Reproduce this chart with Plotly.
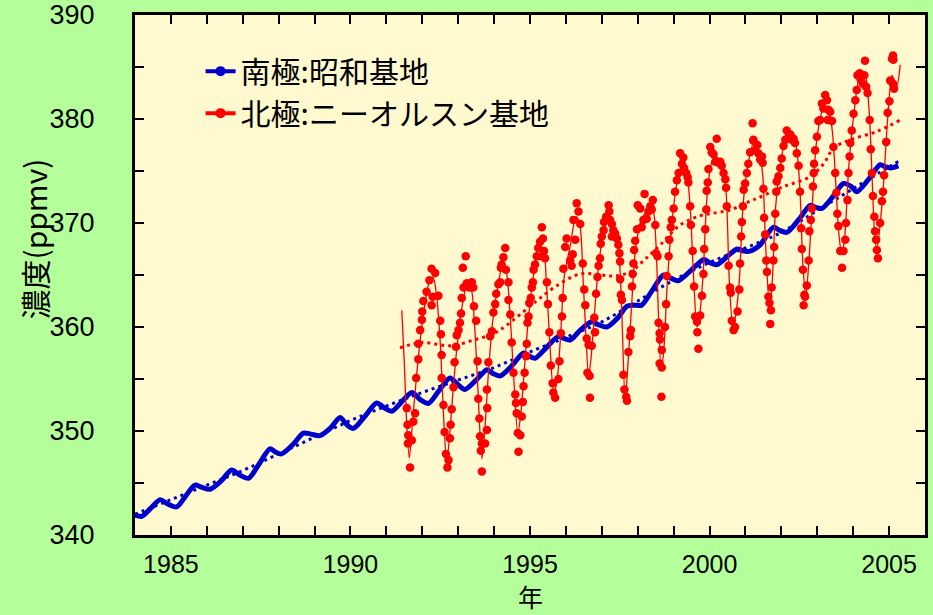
import plotly.graph_objects as go

# ---------------- data ----------------
# Syowa station (Antarctic) - smoothed monthly-ish values
blue_t = [1984.00, 1984.19, 1984.45, 1984.70, 1984.90, 1985.16, 1985.40, 1985.67, 1985.85, 1986.09,
          1986.40, 1986.69, 1986.90, 1987.16, 1987.45, 1987.76, 1987.90, 1988.08, 1988.40, 1988.69,
          1988.90, 1989.15, 1989.45, 1989.71, 1989.90, 1990.08, 1990.40, 1990.73, 1990.95, 1991.15,
          1991.40, 1991.71, 1991.95, 1992.17, 1992.45, 1992.77, 1992.98, 1993.19, 1993.50, 1993.80,
          1993.98, 1994.17, 1994.50, 1994.82, 1994.98, 1995.14, 1995.45, 1995.79, 1995.95, 1996.12,
          1996.40, 1996.72, 1996.92, 1997.14, 1997.45, 1997.70, 1997.90, 1998.11, 1998.40, 1998.72,
          1998.92, 1999.13, 1999.50, 1999.84, 2000.00, 2000.21, 2000.50, 2000.77, 2000.95, 2001.13,
          2001.41, 2001.78, 2001.95, 2002.15, 2002.50, 2002.80, 2002.95, 2003.13, 2003.45, 2003.73,
          2003.95, 2004.10, 2004.45, 2004.75, 2004.90, 2005.03, 2005.26]
blue_v = [341.9, 341.8, 342.6, 343.4, 343.0, 342.7, 343.7, 344.8, 344.6, 344.4,
          345.2, 346.25, 345.8, 345.45, 346.8, 348.3, 348.0, 347.8, 348.7, 349.8,
          349.7, 349.55, 350.3, 351.3, 350.6, 350.25, 351.4, 352.7, 352.2, 351.9,
          352.7, 353.7, 353.0, 352.65, 353.8, 355.1, 354.5, 354.0, 354.9, 355.9,
          355.5, 355.3, 356.3, 357.5, 357.2, 357.0, 358.0, 359.1, 358.9, 358.75,
          359.7, 360.5, 360.2, 360.0, 360.9, 362.0, 362.1, 362.1, 363.5, 365.0,
          364.7, 364.45, 365.5, 366.5, 366.2, 366.0, 366.8, 367.5, 367.3, 367.3,
          367.9, 369.6, 369.3, 369.1, 370.4, 371.7, 371.5, 371.4, 372.6, 373.8,
          373.5, 373.0, 374.3, 375.6, 375.4, 375.3, 375.5]

blue_trend_t = [1984.0, 1985.0, 1986.0, 1987.0, 1988.0, 1989.0, 1990.0, 1991.0, 1992.0, 1993.0,
                1994.0, 1995.0, 1996.0, 1997.0, 1998.0, 1999.0, 2000.0, 2001.0, 2002.0, 2003.0,
                2004.0, 2005.0, 2005.3]
blue_trend_v = [342.0, 343.4, 344.8, 346.2, 347.8, 349.4, 351.0, 352.4, 353.7, 354.9,
                356.1, 357.6, 359.0, 360.5, 362.5, 364.5, 366.2, 367.6, 369.1, 371.2,
                373.3, 375.4, 376.0]

# Ny-Alesund station (Arctic) - individual observations
red_t = [1991.57, 1991.59, 1991.60, 1991.61, 1991.66, 1991.71, 1991.75, 1991.80, 1991.83, 1991.89,
         1991.89, 1991.94, 1991.99, 1992.00, 1992.03, 1992.12, 1992.20, 1992.26, 1992.36, 1992.29,
         1992.26, 1992.45, 1992.50, 1992.52, 1992.54, 1992.54, 1992.59, 1992.62, 1992.66, 1992.70,
         1992.73,
         1992.77, 1992.79, 1992.82, 1992.87, 1992.90, 1992.94, 1992.96, 1993.01, 1993.05, 1993.08,
         1993.10, 1993.15, 1993.13, 1993.21, 1993.24, 1993.31, 1993.38, 1993.42, 1993.44, 1993.50,
         1993.54, 1993.56, 1993.59, 1993.61, 1993.66, 1993.63, 1993.66, 1993.75,
         1993.80, 1993.81, 1993.80, 1993.84, 1993.89, 1993.94, 1993.98, 1994.03, 1994.06, 1994.12,
         1994.17, 1994.19, 1994.26, 1994.31, 1994.21, 1994.33, 1994.40, 1994.40, 1994.45, 1994.49,
         1994.54, 1994.59, 1994.61, 1994.63, 1994.66, 1994.73, 1994.68,
         1994.77, 1994.80, 1994.82, 1994.85, 1994.89, 1994.91, 1994.93, 1994.96, 1994.98, 1995.02,
         1995.05, 1995.08, 1995.10, 1995.14, 1995.19, 1995.23, 1995.28, 1995.36, 1995.33, 1995.39,
         1995.42, 1995.47, 1995.50, 1995.54, 1995.58, 1995.63, 1995.65, 1995.70, 1995.33,
         1995.79, 1995.82, 1995.86, 1995.89, 1995.91, 1995.93, 1995.98, 1996.02, 1996.12, 1996.16,
         1996.19, 1996.26, 1996.30, 1996.21, 1996.35, 1996.40, 1996.47, 1996.51, 1996.54, 1996.58,
         1996.63, 1996.60, 1996.66, 1996.67,
         1996.72, 1996.79, 1996.81, 1996.84, 1996.88, 1996.91, 1996.95, 1996.97, 1997.00, 1997.05,
         1997.06, 1997.12, 1997.19, 1997.21, 1997.23, 1997.28, 1997.28, 1997.32, 1997.37, 1997.42,
         1997.46, 1997.49, 1997.51, 1997.51, 1997.53, 1997.56, 1997.60, 1997.63, 1997.68, 1997.70,
         1997.74, 1997.79, 1997.81, 1997.84, 1997.86, 1997.88, 1997.90, 1997.93, 1997.98, 1998.00,
         1998.07, 1998.11, 1998.16, 1998.19, 1998.25, 1998.30, 1998.35, 1998.39, 1998.42, 1998.49,
         1998.51, 1998.55, 1998.58, 1998.61, 1998.62, 1998.67, 1998.61, 1998.67, 1998.66,
         1998.76, 1998.79, 1998.81, 1998.86, 1998.88, 1998.92, 1998.95, 1999.00, 1999.04, 1999.09,
         1999.14, 1999.18, 1999.23, 1999.27, 1999.29, 1999.35, 1999.39, 1999.41, 1999.46, 1999.48,
         1999.53, 1999.57, 1999.60, 1999.65, 1999.66, 1999.69,
         1999.74, 1999.79, 1999.83, 1999.85, 1999.88, 1999.91, 1999.92, 1999.95, 1999.97, 2000.02,
         2000.06, 2000.11, 2000.16, 2000.20, 2000.25, 2000.30, 2000.34, 2000.39, 2000.44, 2000.46,
         2000.48, 2000.53, 2000.57, 2000.59, 2000.62, 2000.67, 2000.71,
         2000.78, 2000.83, 2000.85, 2000.88, 2000.90, 2000.93, 2000.95, 2000.99, 2001.04, 2001.08,
         2001.13, 2001.22, 2001.20, 2001.22, 2001.27, 2001.33, 2001.36, 2001.41, 2001.46, 2001.48,
         2001.50, 2001.52, 2001.55, 2001.58, 2001.60, 2001.64, 2001.67, 2001.71, 2001.69, 2001.73,
         2001.78, 2001.80, 2001.83, 2001.86, 2001.87, 2001.92, 2001.97, 2002.01, 2002.06, 2002.11,
         2002.15, 2002.20, 2002.25, 2002.29, 2002.34, 2002.38, 2002.43, 2002.48, 2002.52, 2002.55,
         2002.57, 2002.60, 2002.64, 2002.66, 2002.62, 2002.71,
         2002.76, 2002.78, 2002.82, 2002.85, 2002.88, 2002.90, 2002.91, 2002.94, 2002.99, 2003.03,
         2003.08, 2003.13, 2003.17, 2003.22, 2003.27, 2003.31, 2003.36, 2003.29, 2003.41, 2003.45,
         2003.50, 2003.53, 2003.56, 2003.59, 2003.64, 2003.69, 2003.73,
         2003.78, 2003.80, 2003.84, 2003.87, 2003.90, 2003.92, 2003.96, 2004.01, 2004.06, 2004.10,
         2004.12, 2004.18, 2004.21, 2004.27, 2004.33, 2004.31, 2004.36, 2004.40, 2004.46, 2004.49,
         2004.52, 2004.55, 2004.59, 2004.61, 2004.66, 2004.69, 2004.64,
         2004.75, 2004.80, 2004.83, 2004.86, 2004.92, 2004.96, 2005.01, 2005.03, 2005.11, 2005.14,
         2005.08, 2005.12, 2005.11]
red_v = [352.2, 350.6, 348.8, 349.6, 346.5, 349.1, 350.9, 351.7, 355.1, 356.9,
         358.4, 359.7, 360.7, 361.5, 362.5, 363.4, 364.5, 365.6, 365.2, 362.9,
         362.1, 363.0, 360.6, 359.3, 357.3, 355.1, 352.5, 349.9, 347.8, 346.5,
         347.2,
         349.3, 350.6, 352.1, 354.2, 356.6, 358.1, 359.2, 359.7, 360.4, 361.3,
         362.8, 363.8, 365.7, 366.8, 364.2, 363.8, 364.3, 363.8, 362.0, 360.6,
         356.7, 353.1, 351.2, 349.5, 348.8, 348.1, 346.1, 348.8,
         350.1, 352.2, 354.0, 356.6, 359.1, 359.6, 361.4, 362.2, 363.2, 364.1,
         364.3, 365.7, 366.7, 367.6, 366.0, 365.5, 364.3, 362.6, 361.2, 358.5,
         355.6, 353.5, 352.7, 351.7, 349.8, 349.6, 348.0,
         351.4, 352.8, 354.3, 355.6, 357.2, 358.4, 360.4, 361.0, 362.3, 362.8,
         363.8, 364.3, 365.5, 366.0, 366.8, 367.6, 368.2, 368.5, 366.8, 367.3,
         366.6, 364.3, 362.2, 359.5, 356.3, 354.6, 353.7, 353.2, 369.6,
         355.0, 356.7, 359.4, 361.0, 362.8, 365.6, 367.7, 368.5, 366.4, 365.9,
         367.0, 368.4, 371.9, 370.3, 371.1, 369.9, 366.1, 363.6, 362.1, 358.9,
         358.3, 355.6, 355.3, 353.2,
         358.2, 360.9, 359.5, 363.2, 364.8, 365.9, 366.6, 368.0, 368.7, 369.3,
         370.1, 370.6, 371.7, 371.1, 370.3, 369.9, 368.7, 369.3, 369.0, 368.5,
         367.9, 367.1, 366.3, 364.6, 363.1, 362.6, 355.4, 354.0, 353.3, 352.9,
         357.6, 359.1, 359.7, 363.9, 365.1, 366.1, 367.4, 368.3, 369.4, 371.7,
         371.4, 369.6, 370.3, 372.8, 370.4, 371.1, 371.6, 371.3, 372.2, 369.8,
         367.1, 366.8, 360.4, 359.4, 358.8, 357.8, 356.5, 356.1, 353.3,
         360.0, 362.2, 364.9, 366.8, 368.4, 369.6, 370.3, 371.4, 373.0, 374.1,
         374.8, 376.7, 375.7, 376.3, 375.3, 374.8, 374.4, 373.9, 371.6, 369.8,
         367.3, 363.9, 361.0, 360.5, 359.5, 357.9,
         361.1, 363.0, 365.1, 367.5, 369.4, 371.3, 373.1, 373.9, 375.2, 377.3,
         376.8, 376.6, 375.9, 378.1, 375.8, 375.9, 375.5, 374.8, 374.2, 373.4,
         371.6, 365.9, 363.8, 363.3, 360.6, 359.7, 360.0,
         361.5, 363.6, 366.1, 368.7, 370.1, 371.6, 373.2, 373.8, 374.8, 375.7,
         376.8, 377.9, 379.6, 378.0, 377.0, 377.5, 376.7, 376.1, 376.4, 375.8,
         373.3, 370.5, 368.9, 366.4, 365.3, 362.9, 362.3, 361.6, 360.3, 363.8,
         366.4, 367.7, 370.9, 373.0, 374.0, 374.5, 375.3, 376.2, 377.4, 378.0,
         378.9, 378.3, 378.5, 378.0, 378.1, 377.7, 376.7, 375.5, 373.0, 369.5,
         367.5, 365.5, 363.1, 362.9, 362.1, 364.0,
         366.4, 369.2, 370.3, 371.4, 373.5, 374.8, 375.7, 377.0, 378.3, 379.8,
         379.9, 381.5, 381.0, 382.3, 381.8, 380.9, 380.7, 379.9, 379.8, 377.3,
         374.8, 372.9, 370.9, 369.7, 367.3, 365.7, 367.3,
         368.4, 370.0, 372.2, 374.8, 376.4, 377.7, 378.9, 380.5, 381.8, 382.8,
         384.2, 384.4, 383.8, 383.4, 385.6, 384.2, 383.1, 382.5, 379.9, 377.1,
         374.8, 372.6, 370.6, 369.2, 367.4, 366.6, 368.4,
         370.0, 372.1, 373.0, 374.6, 377.8, 380.6, 381.7, 383.7, 383.4, 382.9,
         385.8, 385.7, 386.1]

# Ny-Alesund fitted curve
red_fit_t = [1991.43, 1991.50, 1991.57, 1991.64, 1991.72, 1991.82, 1991.95, 1992.08, 1992.20, 1992.30,
             1992.40, 1992.50, 1992.60, 1992.68, 1992.76, 1992.86, 1992.98, 1993.12, 1993.25, 1993.35,
             1993.45, 1993.55, 1993.66, 1993.74, 1993.84, 1993.96, 1994.10, 1994.24, 1994.34, 1994.44,
             1994.55, 1994.66, 1994.74, 1994.84, 1994.96, 1995.10, 1995.25, 1995.36, 1995.46, 1995.56,
             1995.66, 1995.74, 1995.84, 1995.96, 1996.12, 1996.28, 1996.38, 1996.48, 1996.56, 1996.63,
             1996.70, 1996.80, 1996.93, 1997.08, 1997.22, 1997.34, 1997.48, 1997.56, 1997.65, 1997.72,
             1997.82, 1997.94, 1998.10, 1998.30, 1998.42, 1998.50, 1998.58, 1998.65, 1998.72, 1998.82,
             1998.95, 1999.10, 1999.25, 1999.36, 1999.46, 1999.56, 1999.65, 1999.72, 1999.82, 1999.94,
             2000.08, 2000.22, 2000.36, 2000.46, 2000.55, 2000.65, 2000.72, 2000.82, 2000.94, 2001.08,
             2001.22, 2001.36, 2001.47, 2001.56, 2001.67, 2001.74, 2001.84, 2001.98, 2002.15, 2002.30,
             2002.42, 2002.52, 2002.60, 2002.68, 2002.75, 2002.85, 2002.98, 2003.15, 2003.30, 2003.42,
             2003.52, 2003.60, 2003.68, 2003.76, 2003.88, 2004.02, 2004.18, 2004.32, 2004.44, 2004.52,
             2004.60, 2004.66, 2004.74, 2004.84, 2004.96, 2005.08, 2005.16, 2005.22, 2005.31]
red_fit_v = [361.6, 356.5, 350.5, 347.4, 350.5, 354.5, 359.0, 362.3, 364.4, 364.8,
             363.0, 358.5, 351.0, 347.0, 349.5, 354.0, 358.5, 362.2, 364.0, 363.8,
             360.5, 354.0, 347.3, 350.0, 355.5, 360.5, 363.8, 366.0, 365.3, 361.5,
             355.0, 349.8, 351.5, 355.8, 361.0, 365.0, 367.6, 367.6, 364.0, 358.0,
             353.8, 354.5, 358.5, 365.0, 367.8, 370.6, 370.0, 364.5, 359.0, 355.3,
             357.0, 361.5, 366.5, 369.5, 370.6, 369.7, 366.8, 361.0, 353.0, 356.0,
             361.5, 367.5, 370.3, 371.3, 371.2, 368.5, 361.0, 356.0, 357.5, 364.0,
             370.0, 374.0, 375.8, 375.0, 371.5, 364.5, 360.0, 361.0, 365.0, 373.0,
             376.0, 376.3, 375.3, 373.0, 364.5, 360.0, 361.0, 364.0, 372.0, 375.8,
             377.6, 376.8, 375.0, 368.0, 362.0, 364.0, 371.5, 375.8, 378.3, 378.4,
             377.2, 373.0, 366.0, 363.0, 365.5, 371.0, 377.8, 380.8, 381.0, 378.8,
             373.5, 369.0, 367.0, 368.5, 375.5, 380.5, 384.0, 384.3, 381.0, 375.0,
             368.8, 367.5, 369.5, 373.5, 380.0, 384.2, 383.6, 383.2, 385.2]

red_trend_t = [1991.38, 1992.00, 1992.78, 1993.43, 1994.00, 1994.36, 1995.00, 1995.29, 1995.76, 1996.40,
               1997.00, 1997.33, 1997.79, 1998.20, 1998.63, 1999.18, 1999.74, 2000.20, 2000.57, 2001.13,
               2001.41, 2002.06, 2002.80, 2003.20, 2003.45, 2003.92, 2004.66, 2005.31]
red_trend_v = [358.0, 358.5, 358.2, 358.75, 359.4, 360.2, 362.0, 362.8, 364.0, 365.1,
               365.0, 364.9, 365.3, 366.5, 367.9, 369.8, 370.7, 371.0, 371.25, 372.1,
               372.5, 373.5, 374.45, 375.8, 377.2, 378.0, 378.8, 379.9]

series_names = ["南極:昭和基地", "北極:ニーオルスン基地"]
x_ticks = [1985, 1990, 1995, 2000, 2005]
y_ticks = [340, 350, 360, 370, 380, 390]

BLUE = "#0000CC"
RED = "#FF0000"
GREEN_BG = "#B5FF9B"
JP = "Noto Sans CJK JP"

fig = go.Figure()

# trend lines (dotted)
fig.add_trace(go.Scatter(x=blue_trend_t, y=blue_trend_v, mode="lines", line=dict(color=BLUE, width=3, dash="3px,4px", shape="spline"), showlegend=False, hoverinfo="skip"))
fig.add_trace(go.Scatter(x=red_trend_t, y=red_trend_v, mode="lines", line=dict(color=RED, width=3, dash="3px,4px", shape="spline"), showlegend=False, hoverinfo="skip"))

# Syowa band
fig.add_trace(go.Scatter(x=blue_t, y=blue_v, mode="lines", line=dict(color=BLUE, width=5, shape="spline", smoothing=0.8), showlegend=False))

# Ny-Alesund fit + points
fig.add_trace(go.Scatter(x=red_fit_t, y=red_fit_v, mode="lines", line=dict(color=RED, width=1.3, shape="spline", smoothing=0.8), showlegend=False))
fig.add_trace(go.Scatter(x=red_t, y=red_v, mode="markers", marker=dict(color=RED, size=8.5), showlegend=False))

# legend entries
fig.add_trace(go.Scatter(x=[None], y=[None], mode="lines+markers", name=series_names[0],
                         line=dict(color=BLUE, width=4), marker=dict(color=BLUE, size=10)))
fig.add_trace(go.Scatter(x=[None], y=[None], mode="lines+markers", name=series_names[1],
                         line=dict(color=RED, width=4), marker=dict(color=RED, size=10)))

axis_common = dict(showline=True, linecolor="black", linewidth=3, mirror="ticks",
                   ticks="inside", ticklen=9, tickwidth=2, tickcolor="black",
                   showgrid=False, zeroline=False, automargin=False)

fig.update_xaxes(range=[1984, 2006], tickvals=x_ticks, ticktext=[str(v) for v in x_ticks],
                 minor=dict(dtick=1, tick0=1984, ticks="inside", ticklen=9, tickwidth=2, tickcolor="black", showgrid=False),
                 tickfont=dict(family="Liberation Sans Narrow, Arial Narrow, Liberation Sans", size=25, color="black"),
                 ticklabelstandoff=5,
                 **axis_common)
fig.update_yaxes(range=[340, 390], tickvals=y_ticks,
                 minor=dict(dtick=5, tick0=340, ticks="inside", ticklen=9, tickwidth=2, tickcolor="black", showgrid=False),
                 tickfont=dict(family="Liberation Sans, Arial", size=27, color="black"),
                 ticklabelstandoff=32,
                 **axis_common)

fig.add_annotation(text="濃度(ppmv)", textangle=-90, xref="paper", yref="paper",
                   x=-0.128, y=0.57, xanchor="center", yanchor="middle", showarrow=False,
                   font=dict(family=JP, size=30, color="black"))
fig.add_annotation(text="年", xref="paper", yref="paper",
                   x=0.5, y=-0.1535, xanchor="center", yanchor="bottom", showarrow=False,
                   font=dict(family=JP, size=25, color="black"), borderpad=0)

fig.update_layout(
    width=933, height=615,
    margin=dict(l=135, r=8, t=15, b=80),
    paper_bgcolor=GREEN_BG,
    plot_bgcolor="#FFF9CF",
    legend=dict(x=0.083, y=0.942, xanchor="left", yanchor="top", bgcolor="rgba(0,0,0,0)",
                font=dict(family=JP, size=30, color="black"), itemwidth=30),
    showlegend=True,
)

fig.write_html("out.html", config={"displayModeBar": False},
               post_script="document.body.style.margin='0px';document.body.style.background='" + GREEN_BG + "';")
